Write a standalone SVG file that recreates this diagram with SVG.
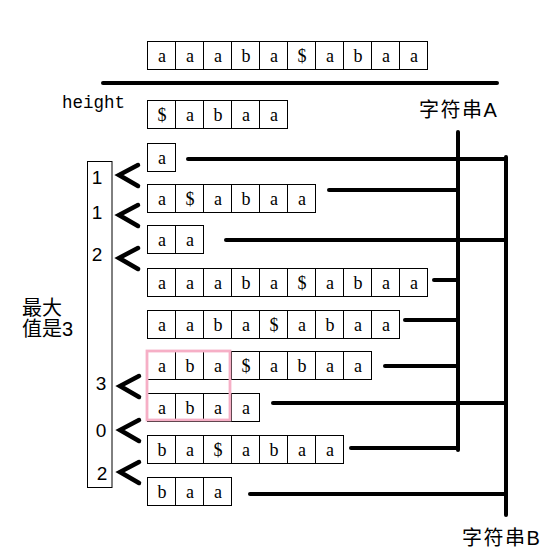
<svg xmlns="http://www.w3.org/2000/svg" width="545" height="549" viewBox="0 0 545 549">
<style>
.c{fill:#fff;stroke:#000;stroke-width:1}
.t{font-family:"Liberation Serif",serif;font-size:18px;text-anchor:middle;fill:#000}
.ln{stroke:#000;stroke-width:4;stroke-linecap:round;fill:none}
.ch{stroke:#000;stroke-width:4.5;stroke-linecap:round;stroke-linejoin:miter;fill:none}
.d{font-family:"Liberation Sans",sans-serif;font-size:19px;text-anchor:middle;fill:#000}
.cjk{font-family:"Liberation Sans","Noto Sans CJK SC",sans-serif;font-size:20px;fill:#000}
</style>
<rect width="545" height="549" fill="#fff"/>
<g id="top-row">
<rect class="c" x="147.5" y="41.5" width="28" height="28"/><text class="t" x="162" y="62">a</text>
<rect class="c" x="175.5" y="41.5" width="28" height="28"/><text class="t" x="190" y="62">a</text>
<rect class="c" x="203.5" y="41.5" width="28" height="28"/><text class="t" x="218" y="62">a</text>
<rect class="c" x="231.5" y="41.5" width="28" height="28"/><text class="t" x="246" y="62">b</text>
<rect class="c" x="259.5" y="41.5" width="28" height="28"/><text class="t" x="274" y="62">a</text>
<rect class="c" x="287.5" y="41.5" width="28" height="28"/><text class="t" x="302" y="62">$</text>
<rect class="c" x="315.5" y="41.5" width="28" height="28"/><text class="t" x="330" y="62">a</text>
<rect class="c" x="343.5" y="41.5" width="28" height="28"/><text class="t" x="358" y="62">b</text>
<rect class="c" x="371.5" y="41.5" width="28" height="28"/><text class="t" x="386" y="62">a</text>
<rect class="c" x="399.5" y="41.5" width="28" height="28"/><text class="t" x="414" y="62">a</text>
</g>
<line class="ln" x1="103" y1="83" x2="497" y2="83" stroke-linecap="butt"/>
<g id="row0">
<rect class="c" x="147.5" y="100.5" width="28" height="28"/><text class="t" x="162" y="121">$</text>
<rect class="c" x="175.5" y="100.5" width="28" height="28"/><text class="t" x="190" y="121">a</text>
<rect class="c" x="203.5" y="100.5" width="28" height="28"/><text class="t" x="218" y="121">b</text>
<rect class="c" x="231.5" y="100.5" width="28" height="28"/><text class="t" x="246" y="121">a</text>
<rect class="c" x="259.5" y="100.5" width="28" height="28"/><text class="t" x="274" y="121">a</text>
</g>
<g id="row1">
<rect class="c" x="147.5" y="143.5" width="28" height="28"/><text class="t" x="162" y="164">a</text>
</g>
<g id="row2">
<rect class="c" x="147.5" y="184.5" width="28" height="28"/><text class="t" x="162" y="205">a</text>
<rect class="c" x="175.5" y="184.5" width="28" height="28"/><text class="t" x="190" y="205">$</text>
<rect class="c" x="203.5" y="184.5" width="28" height="28"/><text class="t" x="218" y="205">a</text>
<rect class="c" x="231.5" y="184.5" width="28" height="28"/><text class="t" x="246" y="205">b</text>
<rect class="c" x="259.5" y="184.5" width="28" height="28"/><text class="t" x="274" y="205">a</text>
<rect class="c" x="287.5" y="184.5" width="28" height="28"/><text class="t" x="302" y="205">a</text>
</g>
<g id="row3">
<rect class="c" x="147.5" y="225.5" width="28" height="28"/><text class="t" x="162" y="246">a</text>
<rect class="c" x="175.5" y="225.5" width="28" height="28"/><text class="t" x="190" y="246">a</text>
</g>
<g id="row4">
<rect class="c" x="147.5" y="268.5" width="28" height="28"/><text class="t" x="162" y="289">a</text>
<rect class="c" x="175.5" y="268.5" width="28" height="28"/><text class="t" x="190" y="289">a</text>
<rect class="c" x="203.5" y="268.5" width="28" height="28"/><text class="t" x="218" y="289">a</text>
<rect class="c" x="231.5" y="268.5" width="28" height="28"/><text class="t" x="246" y="289">b</text>
<rect class="c" x="259.5" y="268.5" width="28" height="28"/><text class="t" x="274" y="289">a</text>
<rect class="c" x="287.5" y="268.5" width="28" height="28"/><text class="t" x="302" y="289">$</text>
<rect class="c" x="315.5" y="268.5" width="28" height="28"/><text class="t" x="330" y="289">a</text>
<rect class="c" x="343.5" y="268.5" width="28" height="28"/><text class="t" x="358" y="289">b</text>
<rect class="c" x="371.5" y="268.5" width="28" height="28"/><text class="t" x="386" y="289">a</text>
<rect class="c" x="399.5" y="268.5" width="28" height="28"/><text class="t" x="414" y="289">a</text>
</g>
<g id="row5">
<rect class="c" x="147.5" y="310.5" width="28" height="28"/><text class="t" x="162" y="331">a</text>
<rect class="c" x="175.5" y="310.5" width="28" height="28"/><text class="t" x="190" y="331">a</text>
<rect class="c" x="203.5" y="310.5" width="28" height="28"/><text class="t" x="218" y="331">b</text>
<rect class="c" x="231.5" y="310.5" width="28" height="28"/><text class="t" x="246" y="331">a</text>
<rect class="c" x="259.5" y="310.5" width="28" height="28"/><text class="t" x="274" y="331">$</text>
<rect class="c" x="287.5" y="310.5" width="28" height="28"/><text class="t" x="302" y="331">a</text>
<rect class="c" x="315.5" y="310.5" width="28" height="28"/><text class="t" x="330" y="331">b</text>
<rect class="c" x="343.5" y="310.5" width="28" height="28"/><text class="t" x="358" y="331">a</text>
<rect class="c" x="371.5" y="310.5" width="28" height="28"/><text class="t" x="386" y="331">a</text>
</g>
<g id="row6">
<rect class="c" x="147.5" y="351.5" width="28" height="28"/><text class="t" x="162" y="372">a</text>
<rect class="c" x="175.5" y="351.5" width="28" height="28"/><text class="t" x="190" y="372">b</text>
<rect class="c" x="203.5" y="351.5" width="28" height="28"/><text class="t" x="218" y="372">a</text>
<rect class="c" x="231.5" y="351.5" width="28" height="28"/><text class="t" x="246" y="372">$</text>
<rect class="c" x="259.5" y="351.5" width="28" height="28"/><text class="t" x="274" y="372">a</text>
<rect class="c" x="287.5" y="351.5" width="28" height="28"/><text class="t" x="302" y="372">b</text>
<rect class="c" x="315.5" y="351.5" width="28" height="28"/><text class="t" x="330" y="372">a</text>
<rect class="c" x="343.5" y="351.5" width="28" height="28"/><text class="t" x="358" y="372">a</text>
</g>
<g id="row7">
<rect class="c" x="147.5" y="393.5" width="28" height="28"/><text class="t" x="162" y="414">a</text>
<rect class="c" x="175.5" y="393.5" width="28" height="28"/><text class="t" x="190" y="414">b</text>
<rect class="c" x="203.5" y="393.5" width="28" height="28"/><text class="t" x="218" y="414">a</text>
<rect class="c" x="231.5" y="393.5" width="28" height="28"/><text class="t" x="246" y="414">a</text>
</g>
<g id="row8">
<rect class="c" x="147.5" y="435.5" width="28" height="28"/><text class="t" x="162" y="456">b</text>
<rect class="c" x="175.5" y="435.5" width="28" height="28"/><text class="t" x="190" y="456">a</text>
<rect class="c" x="203.5" y="435.5" width="28" height="28"/><text class="t" x="218" y="456">$</text>
<rect class="c" x="231.5" y="435.5" width="28" height="28"/><text class="t" x="246" y="456">a</text>
<rect class="c" x="259.5" y="435.5" width="28" height="28"/><text class="t" x="274" y="456">b</text>
<rect class="c" x="287.5" y="435.5" width="28" height="28"/><text class="t" x="302" y="456">a</text>
<rect class="c" x="315.5" y="435.5" width="28" height="28"/><text class="t" x="330" y="456">a</text>
</g>
<g id="row9">
<rect class="c" x="147.5" y="477.5" width="28" height="28"/><text class="t" x="162" y="498">b</text>
<rect class="c" x="175.5" y="477.5" width="28" height="28"/><text class="t" x="190" y="498">a</text>
<rect class="c" x="203.5" y="477.5" width="28" height="28"/><text class="t" x="218" y="498">a</text>
</g>
<g id="highlight">
<rect x="147" y="351" width="83" height="69" fill="none" stroke="#F6AFC6" stroke-width="2.8"/>
</g>
<g id="connectors">
<line class="ln" x1="458" y1="132" x2="458" y2="450"/>
<line class="ln" x1="506" y1="157" x2="506" y2="515"/>
<line class="ln" x1="188" y1="159" x2="506" y2="159"/>
<line class="ln" x1="329" y1="190" x2="458" y2="190"/>
<line class="ln" x1="226" y1="240" x2="506" y2="240"/>
<line class="ln" x1="434" y1="280" x2="458" y2="280"/>
<line class="ln" x1="405" y1="320" x2="458" y2="320"/>
<line class="ln" x1="385" y1="366" x2="458" y2="366"/>
<line class="ln" x1="273" y1="403" x2="506" y2="403"/>
<line class="ln" x1="351" y1="448" x2="458" y2="448"/>
<line class="ln" x1="250" y1="494" x2="506" y2="494"/>
</g>
<g id="height">
<text x="62" y="108" style="font-family:'Liberation Mono',monospace;font-size:17.5px;fill:#000">height</text>
<rect x="87.5" y="161.5" width="24.5" height="326" fill="none" stroke="#000" stroke-width="1"/>
<text class="d" x="97" y="184">1</text>
<text class="d" x="97" y="219">1</text>
<text class="d" x="97" y="261">2</text>
<text class="d" x="101" y="390">3</text>
<text class="d" x="101" y="437">0</text>
<text class="d" x="102" y="480">2</text>
</g>
<g id="chevrons">
<polyline class="ch" points="138,165 119,175 138,186"/>
<polyline class="ch" points="138,205 119,215 138,226"/>
<polyline class="ch" points="138,248 119,258 138,269"/>
<polyline class="ch" points="139,376 120,386 139,397"/>
<polyline class="ch" points="139,420 120,430 139,441"/>
<polyline class="ch" points="139,462 120,472 139,483"/>
</g>
<g id="labels">
<text class="cjk" x="22" y="315" font-size="19">最大</text>
<text class="cjk" x="22" y="336" font-size="19">值是3</text>
<text class="cjk" x="419" y="117" letter-spacing="1.5">字符串A</text>
<text class="cjk" x="462" y="545" letter-spacing="1.5">字符串B</text>
</g>
</svg>
